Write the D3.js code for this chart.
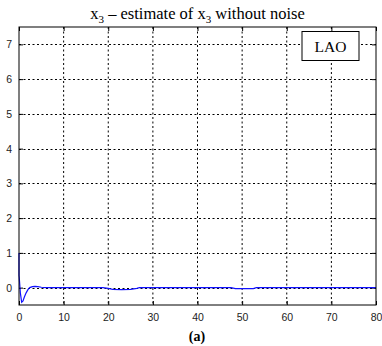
<!DOCTYPE html>
<html>
<head>
<meta charset="utf-8">
<script src="https://cdn.jsdelivr.net/npm/d3@7"></script>
<style>
  body { margin: 0; background: #fff; }
  .tick text { font-family: "Liberation Sans", Arial, sans-serif; font-size: 10.5px; fill: #222; }
</style>
</head>
<body>
<div id="chart"></div>
<script>
// error signal x3 - estimate of x3
const time = [0, 0, 0.05, 0.3, 0.6, 0.9, 1.2, 1.6, 2.0, 2.4, 3.0, 3.6, 4.2, 5.0, 6.0,
  18.8, 20.0, 21.0, 23.0, 25.0, 26.4, 27.0, 47.5, 48.5, 52.5, 53.2, 80];
const error = [1.0, 0.35, 0.3, -0.15, -0.42, -0.38, -0.27, -0.15, -0.06, 0.0, 0.03, 0.035, 0.03, 0.01, 0,
  0, -0.02, -0.05, -0.06, -0.05, -0.02, 0, 0, -0.03, -0.03, 0, 0];
const xTicks = [0, 10, 20, 30, 40, 50, 60, 70, 80];
const yTicks = [0, 1, 2, 3, 4, 5, 6, 7];

const W = 382, H = 346;
const margin = {top: 27, right: 6, bottom: 41, left: 19};
const width = W - margin.left - margin.right;
const height = H - margin.top - margin.bottom;

const svg = d3.select("#chart").append("svg")
  .attr("width", W).attr("height", H);

const g = svg.append("g")
  .attr("transform", "translate(" + margin.left + "," + margin.top + ")");

const x = d3.scaleLinear().domain([0, 80]).range([0, width]);
const y = d3.scaleLinear().domain([-0.5, 7.5]).range([height, 0]);

// dotted grid
g.append("g").selectAll("line").data(xTicks.slice(1, -1)).enter().append("line")
  .attr("x1", d => x(d)).attr("x2", d => x(d))
  .attr("y1", 0).attr("y2", height)
  .attr("stroke", "#000").attr("stroke-width", 1)
  .attr("stroke-dasharray", "2,2.5");
g.append("g").selectAll("line").data(yTicks).enter().append("line")
  .attr("x1", 0).attr("x2", width)
  .attr("y1", d => Math.round(y(d)) + 0.5).attr("y2", d => Math.round(y(d)) + 0.5)
  .attr("stroke", "#000").attr("stroke-width", 1)
  .attr("stroke-dasharray", "2,2.5");

// axes, MATLAB style ticks pointing inward
g.append("g")
  .attr("transform", "translate(0," + height + ")")
  .call(d3.axisBottom(x).tickValues(xTicks).tickSizeInner(-4).tickSizeOuter(0).tickPadding(9))
  .call(a => a.select(".domain").remove());
g.append("g")
  .call(d3.axisLeft(y).tickValues(yTicks).tickSizeInner(-4).tickSizeOuter(0).tickPadding(7))
  .call(a => a.select(".domain").remove());
g.append("g")
  .call(d3.axisTop(x).tickValues(xTicks).tickSizeInner(-4).tickSizeOuter(0).tickFormat(""))
  .call(a => a.select(".domain").remove());
g.append("g")
  .attr("transform", "translate(" + width + ",0)")
  .call(d3.axisRight(y).tickValues(yTicks).tickSizeInner(-4).tickSizeOuter(0).tickFormat(""))
  .call(a => a.select(".domain").remove());

// the signal
const line = d3.line()
  .x((d, i) => x(time[i]))
  .y(d => y(d));
g.append("path")
  .datum(error)
  .attr("fill", "none")
  .attr("stroke", "#1010ff")
  .attr("stroke-width", 1.2)
  .attr("d", line);

// axes box
g.append("rect")
  .attr("x", 0).attr("y", 0).attr("width", width).attr("height", height)
  .attr("fill", "none").attr("stroke", "#000").attr("stroke-width", 1);

// legend box
g.append("rect")
  .attr("x", 283).attr("y", 4.5).attr("width", 57).attr("height", 29)
  .attr("fill", "#fff").attr("stroke", "#000").attr("stroke-width", 1);
g.append("text")
  .attr("x", 311.5).attr("y", 25)
  .attr("text-anchor", "middle")
  .style("font-family", "'Liberation Serif', 'Times New Roman', serif")
  .style("font-size", "15.5px")
  .text("LAO");

// title
const title = svg.append("text")
  .attr("x", margin.left + width / 2).attr("y", 19)
  .attr("text-anchor", "middle")
  .style("font-family", "'Liberation Serif', 'Times New Roman', serif")
  .style("font-size", "16.5px");
title.append("tspan").text("x");
title.append("tspan").attr("dy", 3.5).style("font-size", "11px").text("3");
title.append("tspan").attr("dy", -3.5).text(" – estimate of x");
title.append("tspan").attr("dy", 3.5).style("font-size", "11px").text("3");
title.append("tspan").attr("dy", -3.5).text(" without noise");

// caption
svg.append("text")
  .attr("x", 197).attr("y", 341)
  .attr("text-anchor", "middle")
  .style("font-family", "'Liberation Serif', 'Times New Roman', serif")
  .style("font-size", "14px")
  .style("font-weight", "bold")
  .text("(a)");
</script>
</body>
</html>
